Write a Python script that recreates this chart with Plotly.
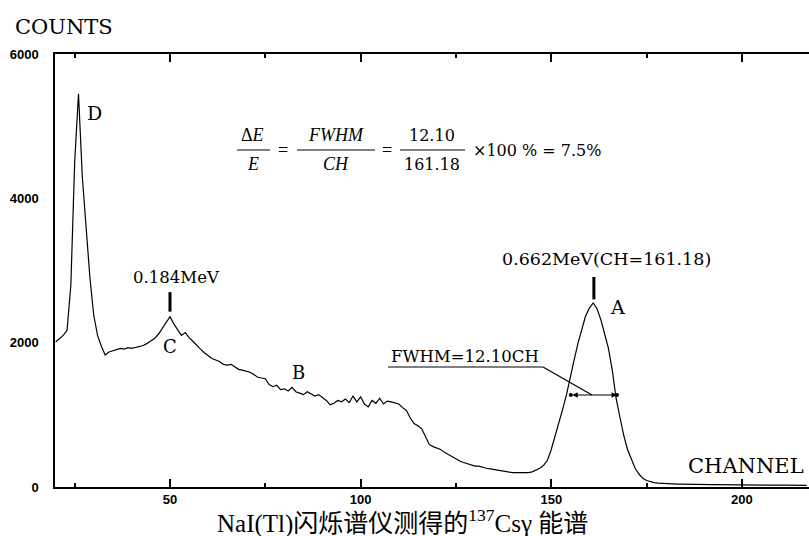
import plotly.graph_objects as go

# ---------------- data ----------------
channels = list(range(20, 218))
counts = [
    2010, 2060, 2100, 2170, 2800, 4500, 5450, 4300, 3600, 2900,   # 20-29
    2380, 2100, 1950, 1830, 1870, 1890, 1900, 1920, 1910, 1930,   # 30-39
    1920, 1930, 1950, 1960, 1990, 2020, 2060, 2120, 2200, 2280,   # 40-49
    2360, 2260, 2180, 2100, 2140, 2070, 2020, 1960, 1910, 1860,   # 50-59
    1820, 1780, 1760, 1740, 1700, 1690, 1700, 1660, 1630, 1620,   # 60-69
    1610, 1590, 1560, 1520, 1510, 1500, 1420, 1390, 1410, 1350,   # 70-79
    1360, 1330, 1380, 1320, 1300, 1280, 1320, 1290, 1260, 1280,   # 80-89
    1240, 1200, 1140, 1160, 1200, 1180, 1220, 1170, 1260, 1180,   # 90-99
    1250, 1150, 1110, 1200, 1160, 1230, 1150, 1190, 1180, 1170,   # 100-109
    1150, 1100, 1060, 960, 880, 850, 810, 700, 590, 560,          # 110-119
    540, 520, 480, 450, 410, 390, 360, 340, 320, 300,             # 120-129
    290, 290, 270, 260, 250, 240, 230, 215, 210, 205,             # 130-139
    200, 200, 195, 190, 200, 210, 230, 260, 300, 370,             # 140-149
    520, 700, 880, 1080, 1280, 1500, 1760, 1990, 2200, 2370,      # 150-159
    2480, 2550, 2470, 2320, 2120, 1920, 1620, 1230, 970, 720,     # 160-169
    520, 380, 260, 180, 120, 90, 70, 60, 55, 50,                  # 170-179
    45, 45, 42, 40, 40, 38, 36, 35, 35, 34,                       # 180-189
    33, 33, 32, 32, 31, 30, 30, 30, 29, 29,                       # 190-199
    28, 28, 28, 27, 27, 27, 26, 26, 26, 25,                       # 200-209
    25, 25, 25, 24, 24, 24, 24, 23,                               # 210-217
]
assert len(channels) == len(counts)

x_ticks = [50, 100, 150, 200]
y_ticks = [0, 2000, 4000, 6000]

C_PEAK_CH = 50          # 0.184 MeV backscatter peak
A_PEAK_CH = 161.18      # 0.662 MeV photopeak
FWHM_CH = 12.10

# ---------------- layout helpers (pixel -> paper) ----------------
W, H = 809, 536
L, R, T, B = 55, 809, 54, 487


def px(x):
    return (x - L) / (R - L)


def py(y):
    return (B - y) / (B - T)


SERIF = "DejaVu Serif, Liberation Serif, serif"
TIMES = "Liberation Serif, DejaVu Serif, serif"
SANS = "Liberation Sans, Arial, sans-serif"

fig = go.Figure()
fig.add_trace(go.Scatter(
    x=channels, y=counts, mode="lines",
    line=dict(color="black", width=1.2), hoverinfo="skip", showlegend=False,
))

a_peak = max(c for ch, c in zip(channels, counts) if ch > 140)
half = a_peak / 2
left_edge = A_PEAK_CH - FWHM_CH / 2
right_edge = A_PEAK_CH + FWHM_CH / 2

# FWHM end dots
fig.add_trace(go.Scatter(
    x=[left_edge, right_edge], y=[half, half], mode="markers",
    marker=dict(color="black", size=4), hoverinfo="skip", showlegend=False,
))

annotations = []


def txt(text, x, y, size, family=SERIF, xanchor="center", **kw):
    annotations.append(dict(
        text=text, x=px(x), y=py(y), xref="paper", yref="paper",
        showarrow=False, xanchor=xanchor, yanchor="middle",
        font=dict(size=size, family=family, color="black"), **kw))


# axis words
txt("COUNTS", 64, 27, 21)
txt("CHANNEL", 746, 466, 21)

# peak letters
txt("D", 94, 113, 19)
txt("C", 170, 346, 18)
txt("B", 298, 372, 18)
txt("A", 617, 307, 19)

# energy labels
txt("0.184MeV", 176, 277, 16.5)
txt("0.662MeV(CH=161.18)", 606, 259, 17.5)

# FWHM label
txt("FWHM=12.10CH", 465, 356, 16.5)

# formula
txt("Δ<i>E</i>", 253, 135, 18, family=TIMES)
txt("<i>E</i>", 253, 164, 18, family=TIMES)
txt("=", 283, 150, 18, family=TIMES)
txt("<i>FWHM</i>", 336, 135, 18, family=TIMES)
txt("<i>CH</i>", 336, 164, 18, family=TIMES)
txt("=", 387, 150, 18, family=TIMES)
txt("12.10", 432, 135, 16)
txt("161.18", 432, 164, 16)
txt("×100 % = 7.5%", 471, 150, 16, xanchor="left")

# title (bottom)
txt("NaI(Tl)闪烁谱仪测得的<sup>137</sup>Csγ 能谱", 402, 521, 25,
    family="Liberation Serif, Noto Sans CJK SC, serif")

# FWHM double arrow
annotations.append(dict(
    x=right_edge, y=half, ax=left_edge, ay=half,
    xref="x", yref="y", axref="x", ayref="y",
    text="", showarrow=True, arrowside="end+start",
    arrowhead=2, arrowsize=0.9, arrowwidth=1.2, arrowcolor="black",
))

shapes = []


def pline(x0, y0, x1, y1, w=1.2):
    shapes.append(dict(type="line", xref="paper", yref="paper",
                       x0=px(x0), y0=py(y0), x1=px(x1), y1=py(y1),
                       line=dict(color="black", width=w)))


# fraction bars
pline(237, 150, 270, 150)
pline(297, 150, 375, 150)
pline(400, 150, 465, 150)
# FWHM underline + leader
pline(388, 367, 543, 367)
pline(543, 367, 592, 395)

# peak marker bars (data coords)
c_peak = max(c for ch, c in zip(channels, counts) if 45 <= ch <= 55)
shapes.append(dict(type="line", xref="x", yref="y",
                   x0=C_PEAK_CH, x1=C_PEAK_CH, y0=c_peak + 70, y1=c_peak + 340,
                   line=dict(color="black", width=3)))
shapes.append(dict(type="line", xref="x", yref="y",
                   x0=A_PEAK_CH, x1=A_PEAK_CH, y0=a_peak + 50, y1=a_peak + 360,
                   line=dict(color="black", width=3)))

fig.update_layout(
    width=W, height=H,
    margin=dict(l=L, r=W - R, t=T, b=H - B, pad=0),
    paper_bgcolor="white", plot_bgcolor="white",
    showlegend=False,
    annotations=annotations, shapes=shapes,
    xaxis=dict(
        range=[19.84, 217.6], tickvals=x_ticks, ticktext=[str(v) for v in x_ticks],
        showgrid=False, zeroline=False,
        showline=True, linecolor="black", linewidth=1.5, mirror="ticks",
        ticks="inside", ticklen=8, tickwidth=1.5, tickcolor="black",
        minor=dict(ticks="inside", ticklen=4, tickwidth=1.5, tickcolor="black",
                   tick0=25, dtick=50),
        tickfont=dict(family=SANS, size=13, color="black", weight="bold"),
        ticklabelstandoff=0,
    ),
    yaxis=dict(
        range=[0, 6000], tickvals=y_ticks, ticktext=[str(v) for v in y_ticks],
        showgrid=False, zeroline=False,
        showline=True, linecolor="black", linewidth=1.5, mirror=False,
        ticks="", tickfont=dict(family=SANS, size=13, color="black", weight="bold"),
        ticklabelstandoff=12,
    ),
)

fig.write_html("out.html")
